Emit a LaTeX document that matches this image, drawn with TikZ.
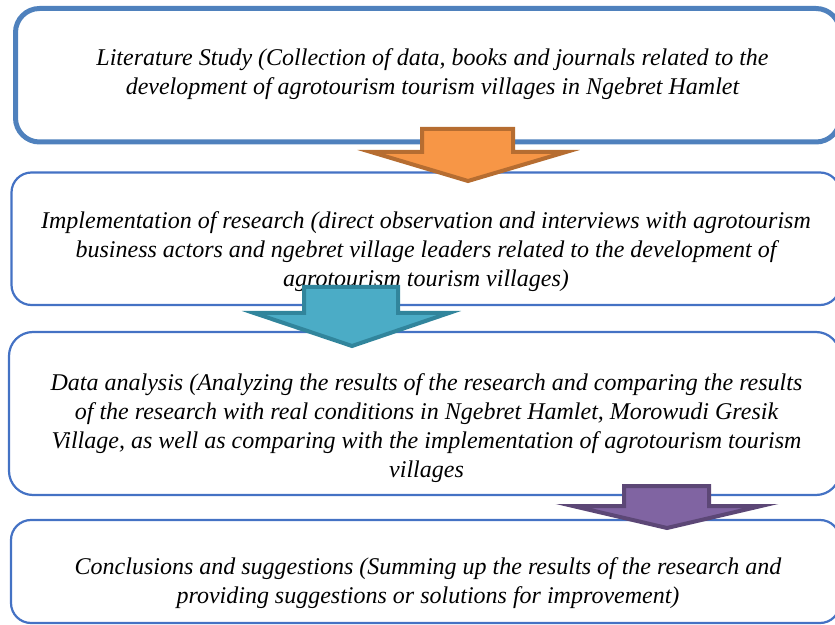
\documentclass[tikz,border=0pt]{standalone}
\usepackage{fontspec}
\setmainfont{Liberation Serif}
\usetikzlibrary{backgrounds}
\definecolor{xblue}{RGB}{79,129,189}
\definecolor{xline}{RGB}{68,114,196}
\definecolor{xorange}{RGB}{247,150,70}
\definecolor{xorangeline}{RGB}{182,109,49}
\definecolor{xteal}{RGB}{75,172,198}
\definecolor{xtealline}{RGB}{49,133,156}
\definecolor{xpurple}{RGB}{128,100,162}
\definecolor{xpurpleline}{RGB}{92,71,118}
\begin{document}
\begin{tikzpicture}[x=0.5pt, y=-0.5pt, every node/.style={font=\itshape\fontsize{12}{14.5}\selectfont}]
\useasboundingbox (0,0) rectangle (835,625);
% boxes
\node[draw=xblue, line width=2.5pt, rounded corners=12pt, minimum width=412.25pt, minimum height=66.75pt, inner sep=0pt] at (427.75,75.25) (lit) {};
\node[draw=xline, line width=1.1pt, rounded corners=10pt, minimum width=414.25pt, minimum height=66.25pt, inner sep=0pt] at (425.75,238.75) (impl) {};
\node[draw=xline, line width=1.1pt, rounded corners=12pt, minimum width=415.5pt, minimum height=81.5pt, inner sep=0pt] at (424.5,413.5) (anal) {};
\node[draw=xline, line width=1.1pt, rounded corners=10pt, minimum width=414.5pt, minimum height=51.5pt, inner sep=0pt] at (425.5,571.5) (concl) {};
% texts
\node[align=center] at (432.5,74) (littext) {Literature Study (Collection of data, books and journals related to the\\development of agrotourism tourism villages in Ngebret Hamlet};
\node[align=center] at (426,252) (impltext) {Implementation of research (direct observation and interviews with agrotourism\\business actors and ngebret village leaders related to the development of\\agrotourism tourism villages)};
\node[align=center] at (426.5,428) (analtext) {Data analysis (Analyzing the results of the research and comparing the results\\of the research with real conditions in Ngebret Hamlet, Morowudi Gresik\\Village, as well as comparing with the implementation of agrotourism tourism\\villages};
\node[align=center] at (428,583) (concltext) {Conclusions and suggestions (Summing up the results of the research and\\providing suggestions or solutions for improvement)};
% block arrows
\draw[line width=2pt, draw=xorangeline, fill=xorange] (422,129) -- (513,129) -- (513,152) -- (566,152) -- (468,181) -- (371,152) -- (422,152) -- cycle;
\draw[line width=2pt, draw=xtealline, fill=xteal] (304,287) -- (398,287) -- (398,313) -- (449,313) -- (352,346) -- (254,313) -- (304,313) -- cycle;
\draw[line width=2pt, draw=xpurpleline, fill=xpurple] (624,486) -- (709,486) -- (709,506) -- (761,506) -- (667,528) -- (573,506) -- (624,506) -- cycle;
\end{tikzpicture}
\end{document}
